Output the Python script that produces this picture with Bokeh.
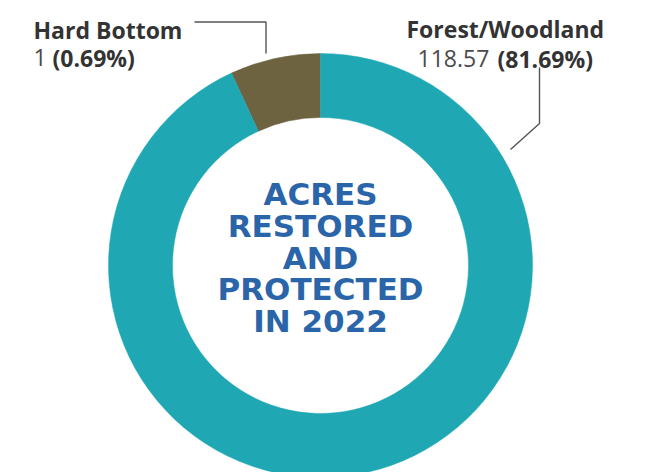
import math
from bokeh.plotting import figure
from bokeh.models import Range1d, ColumnDataSource
from bokeh.core.properties import value
from bokeh.embed import file_html
from bokeh.resources import INLINE

# ---- data ----
categories = ["Hard Bottom", "Forest/Woodland"]
acres = ["1", "118.57"]
percent_labels = ["(0.69%)", "(81.69%)"]
slice_share = [6.9, 93.1]          # share of ring as drawn in the picture
slice_colors = ["#6d6341", "#1fa8b4"]
center_title = ["ACRES", "RESTORED", "AND", "PROTECTED", "IN 2022"]

W, H = 654, 472
CX, CY = 320, 265           # ring centre in figure pixels (from top-left)
R_OUT, R_IN = 212, 148

def dx(px):
    return px - CX

def dy(py):
    return CY - py

p = figure(width=W, height=H, output_backend="svg", toolbar_location=None,
           x_range=Range1d(-CX, W - CX), y_range=Range1d(CY - H, CY),
           min_border=0)
p.axis.visible = False
p.grid.visible = False
p.outline_line_color = None
p.background_fill_color = "white"
p.border_fill_color = "white"

# wedges: start at 12 o'clock, go counter-clockwise
total = sum(slice_share)
starts, ends = [], []
a = math.pi / 2
for s in slice_share:
    starts.append(a)
    a = a + s / total * 2 * math.pi
    ends.append(a)
src = ColumnDataSource(dict(x=[0, 0], y=[0, 0], start=starts, end=ends,
                            color=slice_colors, cat=categories))
p.annular_wedge(x="x", y="y", inner_radius=R_IN, outer_radius=R_OUT,
                start_angle="start", end_angle="end", direction="anticlock",
                fill_color="color", line_color="color", line_width=0.5,
                source=src)

# centre title
baselines = [193, 225, 257, 288, 320]
p.text(x=[0] * len(center_title), y=[dy(b) for b in baselines], text=center_title,
       text_font=value("DejaVu Sans"), text_font_style="bold",
       text_font_size="31px", text_color="#2b65a9",
       text_align="center", text_baseline="alphabetic")

LABEL_FONT = value("Open Sans")
DARK = "#333333"
GREY = "#4a4a4a"
FS = "23px"

# Hard Bottom label
p.text(x=[dx(33)], y=[dy(29)], text=[categories[0]], text_font=LABEL_FONT,
       text_font_style="bold", text_font_size=FS, text_color=DARK,
       text_align="left", text_baseline="alphabetic")
p.text(x=[dx(33)], y=[dy(57)], text=[acres[0]], text_font=LABEL_FONT,
       text_font_size=FS, text_color=GREY,
       text_align="left", text_baseline="alphabetic")
p.text(x=[dx(52)], y=[dy(57)], text=[percent_labels[0]], text_font=LABEL_FONT,
       text_font_style="bold", text_font_size=FS, text_color=DARK,
       text_align="left", text_baseline="alphabetic")
p.line(x=[dx(194), dx(265.5), dx(265.5)], y=[dy(21.5), dy(21.5), dy(53)],
       line_color="#555555", line_width=1.4)

# Forest/Woodland label
p.text(x=[dx(406)], y=[dy(28)], text=[categories[1]], text_font=LABEL_FONT,
       text_font_style="bold", text_font_size=FS, text_color=DARK,
       text_align="left", text_baseline="alphabetic")
p.text(x=[dx(417)], y=[dy(58)], text=[acres[1]], text_font=LABEL_FONT,
       text_font_size=FS, text_color=GREY,
       text_align="left", text_baseline="alphabetic")
p.text(x=[dx(497)], y=[dy(58)], text=[percent_labels[1]], text_font=LABEL_FONT,
       text_font_style="bold", text_font_size=FS, text_color=DARK,
       text_align="left", text_baseline="alphabetic")
p.line(x=[dx(539), dx(539), dx(510)], y=[dy(67), dy(123), dy(149)],
       line_color="#555555", line_width=1.4)

open("out.html", "w").write(file_html(p, INLINE))
